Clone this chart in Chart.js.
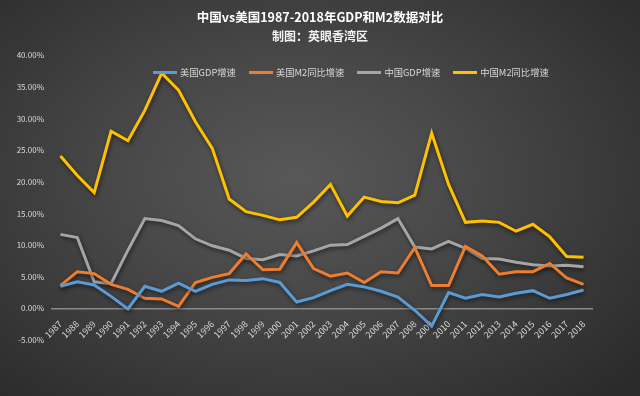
<!DOCTYPE html>
<html>
<head>
<meta charset="utf-8">
<style>
  html, body { margin: 0; padding: 0; }
  body {
    width: 640px; height: 396px; overflow: hidden;
    background: radial-gradient(ellipse 70% 75% at 46% 45%, #585858 0%, #484848 40%, #373737 75%, #2b2b2b 100%);
  }
  #wrap { position: relative; width: 640px; height: 396px; }
  #legend {
    position: absolute; left: 153px; top: 66px;
    display: flex; align-items: center; gap: 13px;
    font-family: 'Noto Sans CJK SC', 'Noto Sans', sans-serif;
    font-size: 9.3px; line-height: 12px; color: #d9d9d9;
    white-space: nowrap;
  }
  .legend-item { display: flex; align-items: center; }
  .legend-line { display: inline-block; width: 24px; height: 3px; margin-right: 3px; }
</style>
<script src="https://cdn.jsdelivr.net/npm/chart.js@4/dist/chart.umd.min.js"></script>
</head>
<body>
<div id="wrap">
  <canvas id="chart"></canvas>
  <div id="legend"></div>
</div>
<script>
'use strict';

// ── DATA ─────────────────────────────────────────────────────

const YEARS = ['1987','1988','1989','1990','1991','1992','1993','1994','1995','1996',
               '1997','1998','1999','2000','2001','2002','2003','2004','2005','2006',
               '2007','2008','2009','2010','2011','2012','2013','2014','2015','2016',
               '2017','2018'];

const US_GDP = [3.5, 4.2, 3.7, 1.9, -0.1, 3.5, 2.7, 4.0, 2.7, 3.8,
                4.5, 4.4, 4.7, 4.1, 1.0, 1.7, 2.8, 3.8, 3.4, 2.7,
                1.8, -0.3, -2.8, 2.5, 1.6, 2.2, 1.8, 2.4, 2.8, 1.6,
                2.2, 2.9];

const US_M2 = [3.6, 5.8, 5.5, 3.8, 3.0, 1.6, 1.5, 0.3, 4.1, 4.9,
               5.5, 8.6, 6.1, 6.2, 10.4, 6.3, 5.1, 5.6, 4.1, 5.8,
               5.6, 9.6, 3.6, 3.6, 9.8, 8.3, 5.4, 5.8, 5.8, 7.1,
               4.8, 3.8];

const CN_GDP = [11.7, 11.2, 4.2, 3.9, 9.2, 14.2, 13.9, 13.1, 11.0, 9.9,
                9.2, 7.9, 7.7, 8.5, 8.3, 9.1, 10.0, 10.1, 11.4, 12.7,
                14.2, 9.7, 9.4, 10.6, 9.5, 7.9, 7.8, 7.3, 6.9, 6.7,
                6.8, 6.6];

const CN_M2 = [24.1, 21.0, 18.3, 28.0, 26.5, 31.3, 37.2, 34.5, 29.5, 25.3,
               17.3, 15.3, 14.7, 14.0, 14.4, 16.8, 19.6, 14.6, 17.6, 16.9,
               16.7, 17.9, 27.7, 19.6, 13.6, 13.8, 13.6, 12.2, 13.3, 11.3,
               8.2, 8.1];

const SERIES_NAMES = ['美国GDP增速', '美国M2同比增速', '中国GDP增速', '中国M2同比增速'];
const SERIES_COLORS = ['#5B9BD5', '#ED7D31', '#A5A5A5', '#FFC000'];

const Y_MIN = -5;
const Y_MAX = 40;
const Y_STEP = 5;

const TITLE = '中国vs美国1987-2018年GDP和M2数据对比';
const SUBTITLE = '制图：英眼香湾区';

// ── STYLE ────────────────────────────────────────────────────

const FONT = "'Noto Sans CJK SC', 'Noto Sans', sans-serif";
const TEXT_COLOR = '#d9d9d9';

// dark glow under the lines, like the Excel shadow effect
const lineShadow = {
  id: 'lineShadow',
  beforeDatasetDraw(chart) {
    const ctx = chart.ctx;
    ctx.save();
    ctx.shadowColor = 'rgba(0,0,0,0.55)';
    ctx.shadowBlur = 4;
    ctx.shadowOffsetX = 1;
    ctx.shadowOffsetY = 2;
  },
  afterDatasetDraw(chart) {
    chart.ctx.restore();
  },
};

const datasets = [US_GDP, US_M2, CN_GDP, CN_M2].map((values, i) => ({
  label: SERIES_NAMES[i],
  data: values,
  borderColor: SERIES_COLORS[i],
  backgroundColor: SERIES_COLORS[i],
  borderWidth: 3,
  pointRadius: 0,
  tension: 0,
  fill: false,
}));

// ── LEGEND (html, sits inside the plot) ──────────────────────

const legendEl = document.getElementById('legend');
SERIES_NAMES.forEach((name, i) => {
  const item = document.createElement('div');
  item.className = 'legend-item';
  item.innerHTML = `<span class="legend-line" style="background:${SERIES_COLORS[i]}"></span><span>${name}</span>`;
  legendEl.appendChild(item);
});

// ── CHART ────────────────────────────────────────────────────

new Chart(document.getElementById('chart'), {
  type: 'line',
  data: { labels: YEARS, datasets },
  plugins: [lineShadow],
  options: {
    responsive: true,
    maintainAspectRatio: false,
    animation: false,
    layout: { padding: { left: 8, right: 8, top: 0, bottom: 56 } },
    plugins: {
      title: {
        display: true,
        text: TITLE,
        color: '#ffffff',
        font: { family: FONT, size: 12.5, weight: 'bold' },
        padding: { top: 10, bottom: 2 },
      },
      subtitle: {
        display: true,
        text: SUBTITLE,
        color: '#f2f2f2',
        font: { family: FONT, size: 12, weight: 'bold' },
        padding: { top: 2, bottom: 12 },
      },
      legend: { display: false },
      tooltip: { enabled: false },
    },
    scales: {
      x: {
        position: { y: 0 },
        offset: true,
        grid: { display: false },
        border: { display: true, color: '#8a8a8a', width: 1.5 },
        ticks: {
          color: TEXT_COLOR,
          font: { family: FONT, size: 9 },
          minRotation: 45,
          maxRotation: 45,
          autoSkip: false,
          padding: 2,
        },
      },
      y: {
        min: Y_MIN,
        max: Y_MAX,
        afterFit: scale => { scale.width = 44; },
        grid: { display: false, drawTicks: false },
        border: { display: false },
        ticks: {
          stepSize: Y_STEP,
          color: TEXT_COLOR,
          font: { family: FONT, size: 8 },
          padding: 8,
          callback: v => v.toFixed(2) + '%',
        },
      },
      // empty right-hand axis, keeps the plot clear of the right edge
      yPad: {
        position: 'right',
        afterFit: scale => { scale.width = 40; },
        grid: { display: false, drawTicks: false },
        border: { display: false },
        ticks: { display: false },
      },
    },
  },
});
</script>
</body>
</html>
